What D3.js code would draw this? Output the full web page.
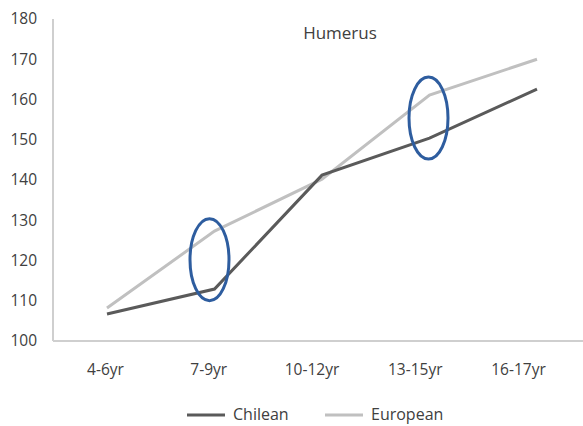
<!DOCTYPE html>
<html>
<head>
<meta charset="utf-8">
<script src="https://cdn.jsdelivr.net/npm/d3@7"></script>
<style>
  body { margin: 0; background: #fff; }
  text { font-family: "Open Sans", Lato, sans-serif; fill: #404040; }
</style>
</head>
<body>
<svg id="chart"></svg>
<script>
// data
const categories = ['4-6yr', '7-9yr', '10-12yr', '13-15yr', '16-17yr'];
const chilean = [106.7, 112.9, 141.2, 150.4, 162.6];
const european = [108.2, 127.3, 140.2, 161.1, 170.0];
const yticks = [100, 110, 120, 130, 140, 150, 160, 170, 180];
const highlightCats = ['7-9yr', '13-15yr'];
const highlightVals = [120.2, 155.4];

const width = 583, height = 426;
const margin = {top: 19, right: 0, bottom: 85, left: 53};

const svg = d3.select('#chart')
    .attr('width', width)
    .attr('height', height);

const inner_height = height - margin.top - margin.bottom;

// lines sit on these points
const xscale = d3.scalePoint()
    .domain(categories)
    .range([107, 537]);

// the category labels in the picture sit a little left of the points
const xlabel = d3.scalePoint()
    .domain(categories)
    .range([105, 518]);

const yscale = d3.scaleLinear()
    .domain([100, 180])
    .range([margin.top + inner_height, margin.top]);

// axis frame
svg.append('line')
    .attr('x1', margin.left).attr('x2', margin.left)
    .attr('y1', yscale(180)).attr('y2', yscale(100))
    .attr('stroke', '#cfcfcf').attr('stroke-width', 2);
svg.append('line')
    .attr('x1', margin.left).attr('x2', width)
    .attr('y1', yscale(100)).attr('y2', yscale(100))
    .attr('stroke', '#cfcfcf').attr('stroke-width', 2);

// y axis labels
const yaxis = d3.axisLeft(yscale)
    .tickValues(yticks)
    .tickSize(0)
    .tickPadding(0);
const yg = svg.append('g')
    .attr('transform', 'translate(37,0)')
    .call(yaxis);
yg.select('.domain').remove();
yg.selectAll('text')
    .style('font-size', '15.5px')
    .style('font-family', '"Open Sans", Lato, sans-serif')
    .attr('fill', '#404040');

// x axis labels
const xaxis = d3.axisBottom(xlabel)
    .tickSize(0)
    .tickPadding(0);
const xg = svg.append('g')
    .attr('transform', 'translate(0,364)')
    .call(xaxis);
xg.select('.domain').remove();
xg.selectAll('text')
    .style('font-size', '15.5px')
    .style('font-family', '"Open Sans", Lato, sans-serif')
    .attr('fill', '#404040');

// title
svg.append('text')
    .attr('x', 340)
    .attr('y', 39)
    .attr('text-anchor', 'middle')
    .style('font-size', '17px')
    .text('Humerus');

const line = d3.line()
    .x((d, i) => xscale(categories[i]))
    .y(d => yscale(d));

svg.append('path')
    .attr('d', line(european))
    .attr('fill', 'none')
    .attr('stroke', '#c0c0c0')
    .attr('stroke-width', 3);

svg.append('path')
    .attr('d', line(chilean))
    .attr('fill', 'none')
    .attr('stroke', '#5a5a5a')
    .attr('stroke-width', 3);

// blue highlight ellipses
svg.selectAll('ellipse.hl')
    .data(highlightCats)
    .join('ellipse')
    .attr('class', 'hl')
    .attr('cx', (d, i) => xscale(d) - (i == 0 ? 5 : 1))
    .attr('cy', (d, i) => yscale(highlightVals[i]))
    .attr('rx', 19.5)
    .attr('ry', 41)
    .attr('fill', 'none')
    .attr('stroke', '#2e5d9f')
    .attr('stroke-width', 3);

// legend
const legend = [
    {name: 'Chilean', color: '#5a5a5a', x: 187},
    {name: 'European', color: '#c0c0c0', x: 325}
];
const lg = svg.selectAll('g.legend')
    .data(legend)
    .join('g')
    .attr('class', 'legend')
    .attr('transform', d => `translate(${d.x},415)`);
lg.append('line')
    .attr('x1', 0).attr('x2', 38)
    .attr('stroke', d => d.color)
    .attr('stroke-width', 3);
lg.append('text')
    .attr('x', 46)
    .attr('y', 5)
    .style('font-size', '16px')
    .text(d => d.name);
</script>
</body>
</html>
